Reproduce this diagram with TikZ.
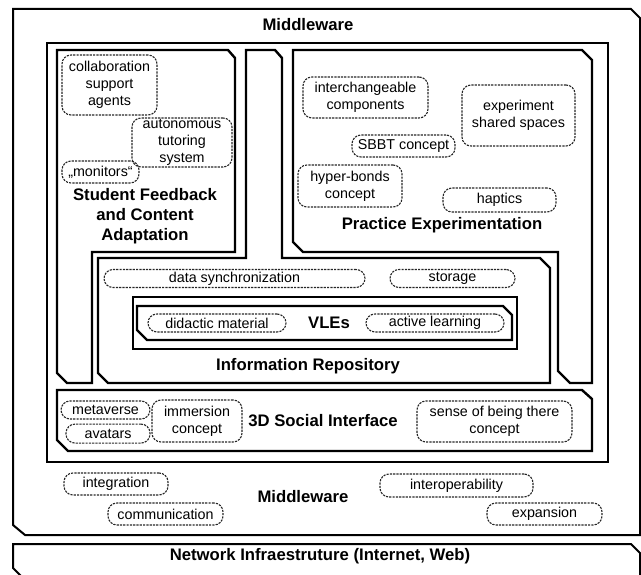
\documentclass[tikz,border=0pt]{standalone}
\usepackage{fontspec}
\setmainfont{Liberation Sans}
\usetikzlibrary{positioning}
\tikzset{areabox/.style={draw, line width=2.4pt, line join=miter},
         ideabox/.style={draw=black!85, line width=1.1pt, dash pattern=on 2.2pt off 1.1pt,
                          rounded corners=9pt, align=center, inner sep=1pt,
                          font=\fontsize{14.3}{17}\selectfont},
         headtext/.style={align=center, inner sep=0pt, font=\fontsize{16.7}{20}\selectfont\bfseries}}

\begin{document}
\begin{tikzpicture}[x=1pt, y=-1pt, node distance=5pt]

             \useasboundingbox (0,0) rectangle (641,575);
             \begin{scope}
             \clip (0,0) rectangle (641,575);
             \draw [areabox, line width=2pt] (13,9) -- (631,9) -- (640,18) -- (640,535) -- (25,535) -- (13,525) -- cycle;
             \draw [areabox, line width=2pt] (13,544) -- (631,544) -- (640,553) -- (640,580) -- (25,580) -- (13,568) -- cycle;
             \end{scope}

             \draw [areabox] (47,43) rectangle (608,462);

             \draw [areabox] (57,50) -- (228,50) -- (235,58) -- (235,252) -- (92,252) -- (92,383) -- (67,383) -- (57,373) -- cycle;
             \draw [areabox] (98,258) -- (246,258) -- (246,50) -- (275,50) -- (282,58) -- (282,258) -- (540,258) -- (550,268) -- (550,383) -- (108,383) -- (98,373) -- cycle;
             \draw [areabox] (293,50) -- (582,50) -- (592,60) -- (592,383) -- (570,383) -- (558,371) -- (558,252) -- (303,252) -- (293,242) -- cycle;
             \draw [areabox] (57,390) -- (582,390) -- (592,399) -- (592,451) -- (68,451) -- (57,440) -- cycle;

             \draw [areabox] (133,297) rectangle (517,349);
             \draw [areabox] (137,306) -- (503,306) -- (512,315) -- (512,340) -- (147,340) -- (137,330) -- cycle;

             \node (mwtop) [headtext] at (308,25) {Middleware};

             \node (collab) [ideabox, minimum width=95pt, minimum height=60pt] at (109.5,85) {collaboration\\support\\agents};
             \node (tutor) [ideabox, minimum width=100pt, minimum height=49pt] at (182,142.5) {autonomous\\tutoring\\system};
             \node (monitors) [ideabox, minimum width=77pt, minimum height=22pt] at (100.5,172) {„monitors“};
             \node (student) [headtext] at (145,216) {Student Feedback\\and Content\\Adaptation};

             \node (parts) [ideabox, minimum width=125pt, minimum height=41pt] at (365.5,97.5) {interchangeable\\components};
             \node (shared) [ideabox, minimum width=113pt, minimum height=61pt] at (518.5,115.5) {experiment\\shared spaces};
             \node (sbbt) [ideabox, minimum width=103pt, minimum height=22pt] at (403.5,146) {SBBT concept};
             \node (bonds) [ideabox, minimum width=104pt, minimum height=42pt] at (350,186) {hyper-bonds\\concept};
             \node (haptics) [ideabox, minimum width=113pt, minimum height=24pt] at (499.5,200) {haptics};
             \node (practice) [headtext] at (442,225) {Practice Experimentation};

             \node (sync) [ideabox, minimum width=261pt, minimum height=18pt] at (234.5,278.5) {data synchronization};
             \node (storage) [ideabox, minimum width=125pt, minimum height=18pt] at (452.5,278.5) {storage};
             \node (didactic) [ideabox, minimum width=138pt, minimum height=18pt] at (217,323) {didactic material};
             \node (vle) [headtext] at (329,323) {VLEs};
             \node (active) [ideabox, minimum width=138pt, minimum height=18pt] at (435,323) {active learning};
             \node (repo) [headtext] at (308,366) {Information Repository};

             \node (meta) [ideabox, minimum width=89pt, minimum height=18pt] at (105.5,410) {metaverse};
             \node (avatars) [ideabox, minimum width=84pt, minimum height=19pt, below left=4pt and 0pt of meta.south east] {avatars};
             \node (immersion) [ideabox, minimum width=90pt, minimum height=42pt] at (197,421) {immersion\\concept};
             \node (social) [headtext] at (323,421) {3D Social Interface};
             \node (there) [ideabox, minimum width=155pt, minimum height=41pt] at (494.5,421.5) {sense of being there\\concept};

             \node (integ) [ideabox, minimum width=104pt, minimum height=22pt] at (116,484) {integration};
             \node (comm) [ideabox, minimum width=115pt, minimum height=22pt] at (165.5,514) {communication};
             \node (mwlow) [headtext] at (303,497) {Middleware};
             \node (interop) [ideabox, minimum width=153pt, minimum height=23pt] at (456.5,485.5) {interoperability};
             \node (expand) [ideabox, minimum width=115pt, minimum height=22pt] at (544.5,514) {expansion};

             \node (network) [headtext] at (320,556) {Network Infraestruture (Internet, Web)};
          \end{tikzpicture}
\end{document}
